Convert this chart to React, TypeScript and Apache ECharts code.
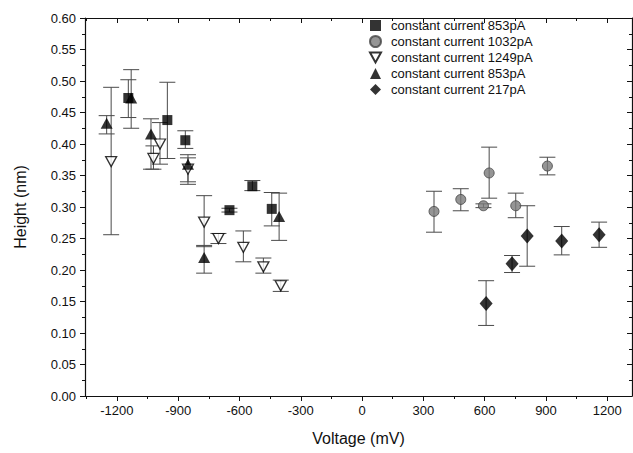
import React, { useEffect, useRef } from "react";
import * as echarts from "echarts";

// ---- data ----
const xMajorTicks = [-1200, -900, -600, -300, 0, 300, 600, 900, 1200];
const xMinorTicks = [-1350, -1050, -750, -450, -150, 150, 450, 750, 1050];

const legendNames = [
  "constant current 853pA",
  "constant current 1032pA",
  "constant current 1249pA",
  "constant current 853pA",
  "constant current 217pA",
];

// series A: squares, 853pA
const sqX = [-1144, -953, -865, -649, -537, -442];
const sqY = [0.473, 0.438, 0.406, 0.295, 0.333, 0.297];
const sqLo = [0.442, 0.377, 0.393, 0.292, 0.326, 0.27];
const sqHi = [0.502, 0.498, 0.421, 0.298, 0.342, 0.323];

// series B: grey circles, 1032pA
const ciX = [352, 483, 594, 622, 752, 907];
const ciY = [0.293, 0.312, 0.302, 0.354, 0.302, 0.365];
const ciLo = [0.26, 0.294, 0.299, 0.314, 0.283, 0.351];
const ciHi = [0.325, 0.329, 0.305, 0.395, 0.322, 0.379];

// series C: open down-triangles, 1249pA
const itX = [-1228, -1021, -989, -852, -773, -703, -581, -483, -398];
const itY = [0.372, 0.377, 0.4, 0.36, 0.276, 0.25, 0.236, 0.205, 0.175];
const itLo = [0.256, 0.36, 0.368, 0.336, 0.237, 0.242, 0.213, 0.195, 0.166];
const itHi = [0.49, 0.397, 0.434, 0.383, 0.318, 0.258, 0.262, 0.219, 0.184];

// series D: filled up-triangles, 853pA
const trX = [-1250, -1130, -1033, -852, -773, -406];
const trY = [0.433, 0.473, 0.416, 0.368, 0.22, 0.285];
const trLo = [0.416, 0.425, 0.36, 0.34, 0.195, 0.247];
const trHi = [0.445, 0.518, 0.44, 0.378, 0.239, 0.322];

// series E: diamonds, 217pA
const diX = [607, 734, 808, 977, 1160];
const diY = [0.147, 0.21, 0.254, 0.246, 0.256];
const diLo = [0.112, 0.196, 0.206, 0.224, 0.236];
const diHi = [0.183, 0.223, 0.302, 0.269, 0.276];

const FONT = "Liberation Sans, Arial, sans-serif";

function pts(xs: number[], ys: number[]) {
  return xs.map((x, i) => [x, ys[i]]);
}
function errs(xs: number[], lo: number[], hi: number[]) {
  return xs.map((x, i) => [x, lo[i], hi[i]]);
}

const CAP = 8;
function errRender(params: any, api: any) {
  const x = api.value(0);
  const lo = api.coord([x, api.value(1)]);
  const hi = api.coord([x, api.value(2)]);
  const style = { stroke: "#4a4a4a", lineWidth: 1 };
  return {
    type: "group",
    children: [
      { type: "line", shape: { x1: lo[0], y1: lo[1], x2: hi[0], y2: hi[1] }, style },
      { type: "line", shape: { x1: lo[0] - CAP, y1: lo[1], x2: lo[0] + CAP, y2: lo[1] }, style },
      { type: "line", shape: { x1: hi[0] - CAP, y1: hi[1], x2: hi[0] + CAP, y2: hi[1] }, style },
    ],
  };
}

export default function App() {
  const ref = useRef<HTMLDivElement>(null);
  useEffect(() => {
    if (!ref.current) return;
    const chart = echarts.init(ref.current, null, { renderer: "svg" });
    const ids = ["s853a", "s1032", "s1249", "s853b", "s217"];
    const errSets = [
      errs(sqX, sqLo, sqHi),
      errs(ciX, ciLo, ciHi),
      errs(itX, itLo, itHi),
      errs(trX, trLo, trHi),
      errs(diX, diLo, diHi),
    ];
    const errSeries = errSets.map((d, i) => ({
      type: "custom",
      name: "err" + i,
      data: d,
      renderItem: errRender,
      z: 1,
      silent: true,
    }));
    const option: any = {
      animation: false,
      backgroundColor: "#ffffff",
      textStyle: { fontFamily: FONT },
      grid: { left: 85, right: 1, top: 18, bottom: 57 },
      legend: {
        orient: "vertical",
        left: 364,
        top: 14,
        itemWidth: 11,
        itemHeight: 11,
        itemGap: 3,
        data: ids,
        formatter: (n: string) => legendNames[ids.indexOf(n)],
        textStyle: { fontSize: 13, color: "#111", fontFamily: FONT, padding: [0, 0, 0, 5] },
        selectedMode: false,
      },
      xAxis: [
        {
          type: "value",
          position: "bottom",
          min: -1356,
          max: 1321,
          name: "Voltage (mV)",
          nameLocation: "middle",
          nameGap: 34,
          nameTextStyle: { fontSize: 16, color: "#111", fontFamily: FONT },
          axisLine: { show: true, onZero: false, lineStyle: { color: "#111", width: 1.2 } },
          axisTick: { show: true, inside: false, length: 5, customValues: xMajorTicks, lineStyle: { color: "#111" } },
          axisLabel: {
            customValues: xMajorTicks,
            fontSize: 13,
            color: "#111",
            margin: 8,
            fontFamily: FONT,
            formatter: (v: number) => String(v),
          },
          splitLine: { show: false },
        },
        {
          type: "value",
          position: "bottom",
          min: -1356,
          max: 1321,
          axisLine: { show: false, onZero: false },
          axisTick: { show: true, inside: false, length: 3, customValues: xMinorTicks, lineStyle: { color: "#111" } },
          axisLabel: { show: false },
          splitLine: { show: false },
        },
        {
          type: "value",
          position: "top",
          min: -1356,
          max: 1321,
          axisLine: { show: true, onZero: false, lineStyle: { color: "#111", width: 1.2 } },
          axisTick: { show: true, inside: true, length: 5, customValues: xMajorTicks, lineStyle: { color: "#111" } },
          axisLabel: { show: false },
          splitLine: { show: false },
        },
        {
          type: "value",
          position: "top",
          min: -1356,
          max: 1321,
          axisLine: { show: false, onZero: false },
          axisTick: { show: true, inside: true, length: 3, customValues: xMinorTicks, lineStyle: { color: "#111" } },
          axisLabel: { show: false },
          splitLine: { show: false },
        },
      ],
      yAxis: [
        {
          type: "value",
          position: "left",
          min: 0,
          max: 0.6,
          interval: 0.05,
          name: "Height (nm)",
          nameLocation: "middle",
          nameGap: 57,
          nameTextStyle: { fontSize: 16, color: "#111", fontFamily: FONT },
          axisLine: { show: true, onZero: false, lineStyle: { color: "#111", width: 1.2 } },
          axisTick: { show: true, inside: false, length: 5, lineStyle: { color: "#111" } },
          minorTick: { show: true, splitNumber: 2, length: 3, lineStyle: { color: "#111" } },
          axisLabel: {
            fontSize: 13,
            color: "#111",
            margin: 9,
            fontFamily: FONT,
            formatter: (v: number) => v.toFixed(2),
          },
          splitLine: { show: false },
          minorSplitLine: { show: false },
        },
        {
          type: "value",
          position: "right",
          min: 0,
          max: 0.6,
          interval: 0.05,
          axisLine: { show: true, onZero: false, lineStyle: { color: "#111", width: 1.2 } },
          axisTick: { show: true, inside: true, length: 5, lineStyle: { color: "#111" } },
          minorTick: { show: true, splitNumber: 2, length: 3, lineStyle: { color: "#111" } },
          axisLabel: { show: false },
          splitLine: { show: false },
        },
      ],
      series: [
        ...errSeries,
        {
          id: "s853a",
          name: "s853a",
          type: "scatter",
          data: pts(sqX, sqY),
          symbol: "rect",
          symbolSize: 10,
          itemStyle: { color: "#000" },
          z: 3,
        },
        {
          id: "s1032",
          name: "s1032",
          type: "scatter",
          data: pts(ciX, ciY),
          symbol: "circle",
          symbolSize: 10,
          itemStyle: { color: "#7a7a7a", borderColor: "#444", borderWidth: 1 },
          z: 3,
        },
        {
          id: "s1249",
          name: "s1249",
          type: "scatter",
          data: pts(itX, itY),
          symbol: "path://M0,0L10,0L5,9Z",
          symbolSize: [11, 10],
          itemStyle: { color: "#fff", borderColor: "#000", borderWidth: 1.3 },
          z: 3,
        },
        {
          id: "s853b",
          name: "s853b",
          type: "scatter",
          data: pts(trX, trY),
          symbol: "triangle",
          symbolSize: [12, 11],
          itemStyle: { color: "#000" },
          z: 3,
        },
        {
          id: "s217",
          name: "s217",
          type: "scatter",
          data: pts(diX, diY),
          symbol: "diamond",
          symbolSize: [13, 15],
          itemStyle: { color: "#000" },
          z: 3,
        },
      ],
    };
    chart.setOption(option);
    return () => chart.dispose();
  }, []);
  return (
    <div
      ref={ref}
      style={{ position: "absolute", left: 0, top: 0, width: 633, height: 453, background: "#fff" }}
    />
  );
}
